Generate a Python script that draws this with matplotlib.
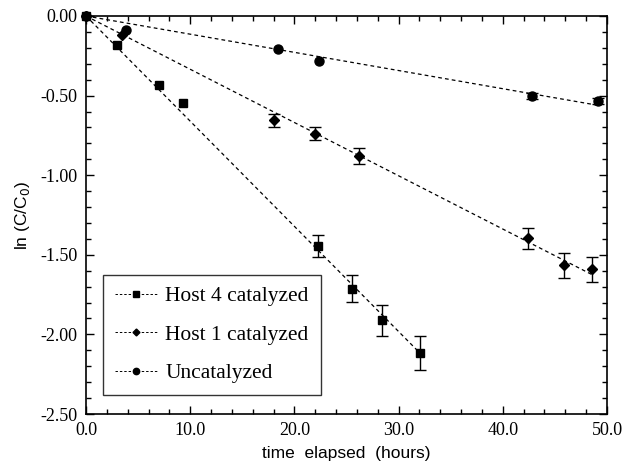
import numpy as np
import matplotlib
matplotlib.use("Agg")
import matplotlib.pyplot as plt
from matplotlib.ticker import MultipleLocator, FormatStrFormatter

plt.rcParams['axes.unicode_minus'] = False

# Data
host4_t = [0.0, 3.0, 7.0, 9.3, 22.3, 25.5, 28.4, 32.1]
host4_y = [0.0, -0.185, -0.435, -0.545, -1.443, -1.713, -1.912, -2.115]
host4_err = [0.0, 0.0, 0.0, 0.0, 0.07, 0.086, 0.095, 0.107]

host1_t = [0.0, 3.45, 18.0, 22.0, 26.2, 42.4, 45.85, 48.55]
host1_y = [0.0, -0.12, -0.655, -0.74, -0.88, -1.397, -1.565, -1.59]
host1_err = [0.0, 0.0, 0.04, 0.04, 0.05, 0.068, 0.078, 0.078]

unc_t = [0.0, 3.85, 18.4, 22.4, 42.8, 49.1]
unc_y = [0.0, -0.088, -0.205, -0.283, -0.502, -0.535]
unc_err = [0.0, 0.0, 0.0, 0.0, 0.02, 0.02]

labels = ["Host 4 catalyzed", "Host 1 catalyzed", "Uncatalyzed"]
xticks = [0.0, 10.0, 20.0, 30.0, 40.0, 50.0]
yticks = [0.00, -0.50, -1.00, -1.50, -2.00, -2.50]

fig = plt.figure(figsize=(6.23, 4.66), dpi=100)
ax = fig.add_axes([86/623, 1-414/466, (607-86)/623, (414-16)/466])

serif = 'Liberation Serif'
sans = 'Liberation Sans'

series = [
    (host4_t, host4_y, host4_err, 's', 6.3),
    (host1_t, host1_y, host1_err, 'D', 5.0),
    (unc_t, unc_y, unc_err, 'o', 6.5),
]
handles = []
for (t, y, e, m, ms), lab in zip(series, labels):
    t = np.asarray(t); y = np.asarray(y); e = np.asarray(e)
    slope = np.sum(t*y)/np.sum(t*t)
    xx = np.array([0.0, t.max()])
    ax.plot(xx, slope*xx, ls=(0, (3, 2.5)), color='black', lw=0.9, zorder=2)
    sel = e > 0
    ax.errorbar(t[sel], y[sel], yerr=e[sel], fmt='none', ecolor='black',
                elinewidth=1.0, capsize=4.5, capthick=1.0, zorder=3)
    ax.plot(t, y, ls='none', marker=m, ms=ms, color='black', zorder=4,
            clip_on=False)
    h, = ax.plot([], [], ls=(0, (2.5, 2)), color='black', lw=0.7, marker=m,
                 ms=ms*0.7, label=lab)
    handles.append(h)

ax.set_xlim(0, 50)
ax.set_ylim(-2.5, 0)
ax.set_xticks(xticks)
ax.set_yticks(yticks)
ax.xaxis.set_minor_locator(MultipleLocator(2))
ax.yaxis.set_minor_locator(MultipleLocator(0.1))
ax.xaxis.set_major_formatter(FormatStrFormatter('%.1f'))
ax.yaxis.set_major_formatter(FormatStrFormatter('%.2f'))
ax.tick_params(which='both', direction='in', top=True, right=True, width=1.0)
ax.tick_params(which='major', length=6, labelsize=13, pad=6)
ax.tick_params(which='minor', length=3.5)
for lbl in ax.get_xticklabels() + ax.get_yticklabels():
    lbl.set_fontfamily(serif)
for s in ax.spines.values():
    s.set_linewidth(1.2)

ax.set_xlabel('time  elapsed  (hours)', fontfamily=sans, fontsize=12.5, labelpad=5)
ax.set_ylabel('ln (C/C$_0$)', fontfamily=sans, fontsize=12.5, labelpad=6)

leg = ax.legend(handles=handles, loc='lower left', bbox_to_anchor=(17/521, 19/398),
                prop={'family': serif, 'size': 15.5}, frameon=True, fancybox=False,
                edgecolor='black', handlelength=2.0, handletextpad=0.35,
                labelspacing=0.85, borderpad=0.55, borderaxespad=0)
leg.get_frame().set_linewidth(1.0)

fig.savefig('out.png', dpi=100)
